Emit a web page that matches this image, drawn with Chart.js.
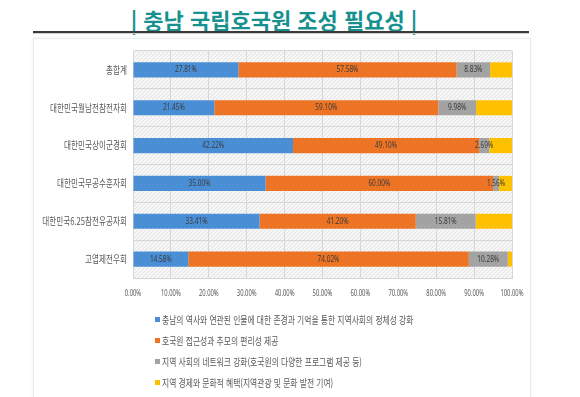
<!DOCTYPE html>
<html lang="ko">
<head>
<meta charset="utf-8">
<script src="https://cdn.jsdelivr.net/npm/chart.js@4"></script>
<style>
  body { margin: 0; background: #fff; font-family: "Noto Sans CJK KR", sans-serif; }
  #wrap { position: relative; width: 580px; height: 397px; overflow: hidden; }
  #title { position: absolute; left: 0; top: 3px; width: 548px; text-align: center;
           font-size: 22px; font-weight: bold; color: #17918f; white-space: nowrap; }
  #rule { position: absolute; left: 33px; top: 31px; width: 496px; height: 2px; background: #3a3a3a;
          border-bottom: 1px solid #cfcfcf; }
  #panel { position: absolute; left: 33px; top: 38px; width: 496px; height: 380px;
           border: 1px solid #ececec; box-shadow: 0 0 3px rgba(0,0,0,0.07); background: #fff; }
  #chart { position: absolute; left: 0; top: 0; }
  #legend { position: absolute; left: 155px; top: 307px; }
  .item { height: 21px; line-height: 21px; white-space: nowrap; font-size: 10px; color: #595959; }
  .box { display: inline-block; width: 5px; height: 5px; vertical-align: middle; margin-right: 2px; }
  .txt { display: inline-block; transform: scaleX(0.78); transform-origin: left center; vertical-align: middle; }
</style>
</head>
<body>
<div id="wrap">
  <div id="panel"></div>
  <div id="title">| 충남 국립호국원 조성 필요성 |</div>
  <div id="rule"></div>
  <canvas id="chart" width="580" height="397"></canvas>
  <div id="legend"></div>
</div>
<script>
// categories (top to bottom)
const groups = ['총합계', '대한민국월남전참전자회', '대한민국상이군경회', '대한민국무공수훈자회', '대한민국6.25참전유공자회', '고엽제전우회'];

const seriesNames = [
  '충남의 역사와 연관된 인물에 대한 존경과 기억을 통한 지역사회의 정체성 강화',
  '호국원 접근성과 추모의 편리성 제공',
  '지역 사회의 네트워크 강화(호국원의 다양한 프로그램 제공 등)',
  '지역 경제와 문화적 혜택(지역관광 및 문화 발전 기여)'
];

// values in %
const identity = [27.81, 21.45, 42.22, 35.00, 33.41, 14.58];
const access = [57.58, 59.10, 49.10, 60.00, 41.20, 74.02];
const network = [8.83, 9.98, 2.69, 1.56, 15.81, 10.28];
const economy = [5.78, 9.47, 5.99, 3.44, 9.58, 1.12];

const colors = ['#4a8fd6', '#ec7424', '#a3a3a3', '#ffc000'];

// hatched plot background
function makePattern(ctx) {
  const p = document.createElement('canvas');
  p.width = 4; p.height = 4;
  const c = p.getContext('2d');
  c.fillStyle = '#f6f6f6';
  c.fillRect(0, 0, 4, 4);
  c.strokeStyle = '#e3e3e3';
  c.lineWidth = 1;
  c.beginPath();
  c.moveTo(0, 4); c.lineTo(4, 0);
  c.stroke();
  return ctx.createPattern(p, 'repeat');
}

const plotBg = {
  id: 'plotBg',
  beforeDraw(chart) {
    const a = chart.chartArea;
    const ctx = chart.ctx;
    ctx.save();
    ctx.fillStyle = makePattern(ctx);
    ctx.fillRect(a.left, a.top, a.right - a.left, a.bottom - a.top);
    ctx.restore();
  }
};

// the source picture is squeezed sideways, so text is drawn narrowed
function drawNarrow(ctx, text, x, y, align, sx) {
  ctx.save();
  ctx.translate(x, y);
  ctx.scale(sx, 1);
  ctx.textAlign = align;
  ctx.textBaseline = 'middle';
  ctx.fillText(text, 0, 0);
  ctx.restore();
}

const labels = {
  id: 'labels',
  afterDraw(chart) {
    const ctx = chart.ctx;
    const xs = chart.scales.x, ys = chart.scales.y;
    ctx.save();
    // category labels
    ctx.font = '10px "Noto Sans CJK KR"';
    ctx.fillStyle = '#595959';
    groups.forEach((g, i) => {
      drawNarrow(ctx, g, chart.chartArea.left - 6, ys.getPixelForTick(i), 'right', 0.76);
    });
    // value axis labels
    ctx.font = '9px "Noto Sans"';
    xs.ticks.forEach((t, i) => {
      drawNarrow(ctx, t.value.toFixed(2) + '%', xs.getPixelForTick(i), chart.chartArea.bottom + 15, 'center', 0.65);
    });
    // bar labels, first three series only
    ctx.font = '9px "Noto Sans"';
    ctx.fillStyle = '#3b3b3b';
    for (let d = 0; d < 3; d++) {
      const meta = chart.getDatasetMeta(d);
      meta.data.forEach((bar, i) => {
        const v = chart.data.datasets[d].data[i];
        drawNarrow(ctx, v.toFixed(2) + '%', (bar.x + bar.base) / 2, bar.y, 'center', 0.72);
      });
    }
    ctx.restore();
  }
};

const chart = new Chart(document.getElementById('chart'), {
  type: 'bar',
  data: {
    labels: groups,
    datasets: [identity, access, network, economy].map((vals, i) => ({
      label: seriesNames[i],
      data: vals,
      backgroundColor: colors[i],
      borderWidth: 0,
      categoryPercentage: 1,
      barPercentage: 0.4
    }))
  },
  options: {
    indexAxis: 'y',
    responsive: false,
    animation: false,
    layout: { padding: { left: 0, right: 68, top: 51, bottom: 0 } },
    plugins: { legend: { display: false }, tooltip: { enabled: false } },
    scales: {
      x: {
        stacked: true,
        min: 0,
        max: 100,
        ticks: { display: false, stepSize: 10 },
        grid: { color: '#d6d6d6', drawTicks: false },
        border: { color: '#d6d6d6' },
        afterFit(s) { s.height = 119; }
      },
      y: {
        stacked: true,
        ticks: { display: false },
        grid: { color: '#d6d6d6', drawTicks: false, offset: true },
        border: { color: '#d6d6d6' },
        afterFit(s) { s.width = 133; }
      }
    }
  },
  plugins: [plotBg, labels]
});

// legend, one entry per row
const legend = document.getElementById('legend');
chart.data.datasets.forEach(ds => {
  const row = document.createElement('div');
  row.className = 'item';
  const box = document.createElement('span');
  box.className = 'box';
  box.style.background = ds.backgroundColor;
  const txt = document.createElement('span');
  txt.className = 'txt';
  txt.textContent = ds.label;
  row.appendChild(box);
  row.appendChild(txt);
  legend.appendChild(row);
});
</script>
</body>
</html>
